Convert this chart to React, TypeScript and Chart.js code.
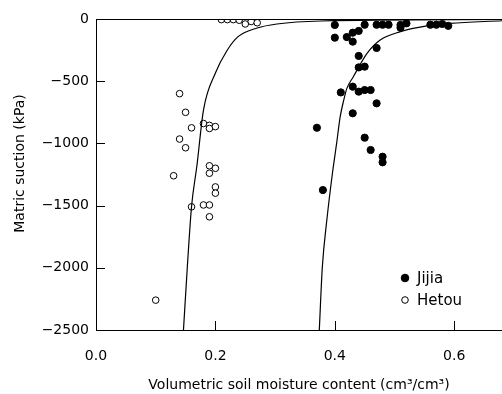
import React, { useEffect, useRef } from "react";
import { Chart, registerables } from "chart.js";

Chart.register(...registerables);

// ---- Data ----
const X_TICKS = [0, 0.2, 0.4, 0.6];
const Y_TICKS = [0, -500, -1000, -1500, -2000, -2500];
const X_TITLE = "Volumetric soil moisture content (cm³/cm³)";
const Y_TITLE = "Matric suction (kPa)";

const JIJIA_X = [
  0.4, 0.4, 0.42, 0.43, 0.44, 0.43, 0.45, 0.47, 0.48, 0.49, 0.51, 0.52, 0.51,
  0.56, 0.57, 0.58, 0.59, 0.47, 0.44, 0.44, 0.45, 0.43, 0.41, 0.44, 0.45, 0.46,
  0.47, 0.43, 0.37, 0.45, 0.46, 0.48, 0.48, 0.38,
];
const JIJIA_Y = [
  -48, -150, -145, -110, -96, -182, -46, -46, -46, -46, -48, -35, -70,
  -46, -46, -40, -55, -233, -297, -389, -383, -544, -590, -584, -571, -571,
  -678, -758, -874, -954, -1053, -1107, -1152, -1375,
];

const HETOU_X = [
  0.21, 0.22, 0.23, 0.24, 0.25, 0.25, 0.26, 0.27, 0.14, 0.15, 0.16, 0.14, 0.15,
  0.18, 0.19, 0.19, 0.2, 0.19, 0.19, 0.2, 0.13, 0.2, 0.2, 0.16, 0.18, 0.19, 0.19,
  0.1,
];
const HETOU_Y = [
  -5, -5, -5, -10, -20, -40, -20, -30, -600, -750, -875, -965, -1035, -840,
  -855, -880, -865, -1180, -1240, -1200, -1260, -1350, -1400, -1510, -1495,
  -1495, -1590, -2260,
];

// fitted retention curves
const JIJIA_CURVE_X = [
  0.374, 0.379, 0.387, 0.396, 0.403, 0.409, 0.415, 0.42, 0.431, 0.454, 0.476,
  0.51, 0.554, 0.593, 0.68,
];
const JIJIA_CURVE_Y = [
  -2500, -2000, -1600, -1240, -1000, -785, -651, -560, -464, -276, -169, -102,
  -56, -35, -14,
];
const HETOU_CURVE_X = [
  0.1465, 0.153, 0.16, 0.169, 0.18, 0.2, 0.22, 0.238, 0.27, 0.303, 0.376, 0.68,
];
const HETOU_CURVE_Y = [
  -2500, -1991, -1509, -1180, -732, -434, -249, -142, -72, -40, -16, -4,
];

const FONT = "'DejaVu Sans', 'Liberation Sans', Arial, sans-serif";

const zip = (xs: number[], ys: number[]) => xs.map((x, i) => ({ x, y: ys[i] }));

const innerTicksPlugin = {
  id: "innerTicks",
  afterDraw(chart: any) {
    const { ctx, chartArea, scales } = chart;
    const len = 9;
    ctx.save();
    ctx.strokeStyle = "#000";
    ctx.lineWidth = 1;
    ctx.beginPath();
    for (const v of X_TICKS) {
      const px = Math.round(scales.x.getPixelForValue(v)) + 0.5;
      ctx.moveTo(px, chartArea.bottom);
      ctx.lineTo(px, chartArea.bottom - len);
    }
    for (const v of Y_TICKS) {
      const py = Math.round(scales.y.getPixelForValue(v)) + 0.5;
      ctx.moveTo(chartArea.left, py);
      ctx.lineTo(chartArea.left + len, py);
    }
    // top frame line
    const top = Math.round(chartArea.top) + 0.5;
    ctx.moveTo(chartArea.left, top);
    ctx.lineTo(chartArea.right, top);
    ctx.stroke();

    // y-axis title (drawn slightly above the centre, as in the original)
    ctx.fillStyle = "#000";
    ctx.font = `14px ${FONT}`;
    ctx.textAlign = "center";
    ctx.textBaseline = "middle";
    ctx.translate(20.5, (chartArea.top + chartArea.bottom) / 2 - 11);
    ctx.rotate(-Math.PI / 2);
    ctx.fillText(Y_TITLE, 0, 0);
    ctx.restore();
  },
};

const insideLegendPlugin = {
  id: "insideLegend",
  afterDraw(chart: any) {
    const { ctx, chartArea } = chart;
    const items = chart.data.datasets.filter((d: any) => d.inLegend);
    ctx.save();
    ctx.font = `15px ${FONT}`;
    ctx.textBaseline = "middle";
    ctx.textAlign = "left";
    items.forEach((d: any, i: number) => {
      const x = chartArea.right - 97;
      const y = chartArea.bottom - 52 + i * 22;
      ctx.beginPath();
      ctx.arc(x, y, d.inLegend === "filled" ? 3.8 : 3.3, 0, Math.PI * 2);
      ctx.fillStyle = d.backgroundColor;
      ctx.fill();
      ctx.lineWidth = 1;
      ctx.strokeStyle = d.borderColor;
      ctx.stroke();
      ctx.fillStyle = "#000";
      ctx.fillText(d.label, x + 12, y + 1);
    });
    ctx.restore();
  },
};

export default function App() {
  const ref = useRef<HTMLCanvasElement | null>(null);

  useEffect(() => {
    if (!ref.current) return;
    const chart = new Chart(ref.current, {
      type: "scatter",
      data: {
        datasets: [
          {
            label: "Jijia curve",
            data: zip(JIJIA_CURVE_X, JIJIA_CURVE_Y),
            showLine: true,
            pointRadius: 0,
            borderColor: "#000",
            borderWidth: 1.2,
            cubicInterpolationMode: "monotone",
            backgroundColor: "#000",
          } as any,
          {
            label: "Hetou curve",
            data: zip(HETOU_CURVE_X, HETOU_CURVE_Y),
            showLine: true,
            pointRadius: 0,
            borderColor: "#000",
            borderWidth: 1.2,
            cubicInterpolationMode: "monotone",
            backgroundColor: "#000",
          } as any,
          {
            label: "Jijia",
            data: zip(JIJIA_X, JIJIA_Y),
            pointRadius: 3.6,
            pointBackgroundColor: "#000",
            pointBorderColor: "#000",
            backgroundColor: "#000",
            borderColor: "#000",
            borderWidth: 1,
            inLegend: "filled",
          } as any,
          {
            label: "Hetou",
            data: zip(HETOU_X, HETOU_Y),
            pointRadius: 3.3,
            pointBackgroundColor: "#fff",
            pointBorderColor: "#000",
            backgroundColor: "#fff",
            borderColor: "#000",
            borderWidth: 1,
            inLegend: "open",
          } as any,
        ],
      },
      options: {
        animation: false,
        responsive: false,
        layout: { autoPadding: false, padding: { top: 19, left: 0, right: 0, bottom: 0 } },
        plugins: {
          legend: { display: false },
          tooltip: { enabled: false },
        },
        scales: {
          x: {
            type: "linear",
            min: 0,
            max: 0.68,
            grid: { display: false, drawTicks: false },
            border: { display: true, color: "#000", width: 1 },
            afterBuildTicks: (axis: any) => {
              axis.ticks = X_TICKS.map((v) => ({ value: v }));
            },
            afterFit: (axis: any) => {
              axis.height = 64;
            },
            ticks: {
              color: "#000",
              font: { family: FONT, size: 14 },
              padding: 18,
              maxRotation: 0,
              callback: (v: any) => Number(v).toFixed(1),
            },
            title: {
              display: true,
              text: X_TITLE,
              color: "#000",
              font: { family: FONT, size: 14 },
              padding: { top: 0, bottom: 0 },
            },
          },
          y: {
            type: "linear",
            min: -2500,
            max: 0,
            grid: { display: false, drawTicks: false },
            border: { display: true, color: "#000", width: 1 },
            afterBuildTicks: (axis: any) => {
              axis.ticks = Y_TICKS.map((v) => ({ value: v }));
            },
            afterFit: (axis: any) => {
              axis.width = 96;
            },
            ticks: {
              color: "#000",
              font: { family: FONT, size: 14 },
              padding: 7,
              callback: (v: any) => String(v).replace("-", "\u2212"),
            },
            title: { display: false },
          },
        },
      } as any,
      plugins: [innerTicksPlugin, insideLegendPlugin],
    });
    return () => chart.destroy();
  }, []);

  return (
    <div style={{ position: "absolute", left: 0, top: 0, width: 502, height: 394, background: "#fff" }}>
      <canvas ref={ref} width={502} height={394} style={{ width: 502, height: 394, display: "block" }} />
    </div>
  );
}
